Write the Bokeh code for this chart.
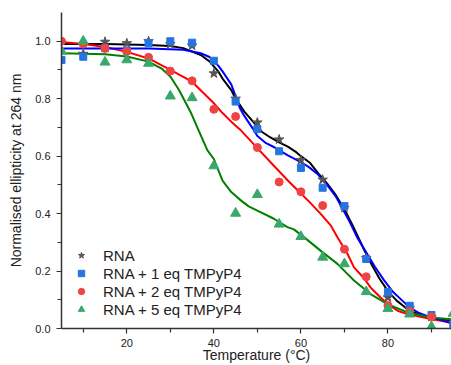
from bokeh.plotting import figure
from bokeh.models import Range1d, FixedTicker, PrintfTickFormatter, Legend, LegendItem, LinearAxis
from bokeh.embed import file_html
from bokeh.resources import INLINE

# ---- measured points ----
t_rna = [10, 15, 20, 25, 30, 35, 40, 45, 50, 55, 60, 65, 70, 75, 80, 85, 90]
v_rna = [0.956, 0.998, 0.993, 1.0, 0.99, 0.985, 0.888, 0.80, 0.717, 0.658, 0.586, 0.518, 0.42, 0.245, 0.108, 0.07, 0.04]

t_1eq = [5, 10, 15, 20, 25, 30, 35, 40, 45, 50, 55, 60, 65, 70, 75, 80, 85, 90, 95]
v_1eq = [0.935, 0.946, 0.976, 0.968, 0.993, 1.0, 0.995, 0.932, 0.79, 0.694, 0.617, 0.559, 0.49, 0.426, 0.242, 0.127, 0.079, 0.047, 0.015]

t_2eq = [5, 10, 15, 20, 25, 30, 35, 40, 45, 50, 55, 60, 65, 70, 75, 80, 85, 90]
v_2eq = [1.0, 0.99, 0.975, 0.964, 0.944, 0.896, 0.862, 0.763, 0.738, 0.63, 0.51, 0.476, 0.428, 0.276, 0.18, 0.08, 0.06, 0.04]

t_5eq = [5, 10, 15, 20, 25, 30, 35, 40, 45, 50, 55, 60, 65, 70, 75, 80, 85, 90, 95]
v_5eq = [0.965, 1.0, 0.927, 0.935, 0.923, 0.809, 0.803, 0.566, 0.401, 0.466, 0.363, 0.32, 0.248, 0.225, 0.128, 0.069, 0.05, 0.006, 0.053]

# ---- fitted curves ----
ft_rna = [5, 15, 25, 30, 33, 37, 39, 41, 42, 44, 45, 47, 49, 51, 53, 55, 57, 59, 60, 62, 64, 66, 68, 70, 72, 74.5, 76, 78, 80, 82, 84, 86, 88, 90, 92, 94.6]
fv_rna = [0.99, 0.99, 0.987, 0.983, 0.976, 0.952, 0.93, 0.895, 0.87, 0.83, 0.80, 0.755, 0.72, 0.685, 0.665, 0.648, 0.633, 0.613, 0.60, 0.578, 0.54, 0.505, 0.465, 0.415, 0.355, 0.275, 0.23, 0.175, 0.13, 0.097, 0.073, 0.056, 0.045, 0.038, 0.032, 0.026]

ft_1eq = [5, 25, 33, 37, 39, 41, 42, 44, 46, 47, 49, 50, 52, 54, 57, 59, 61, 62, 64, 66, 68, 70, 71.4, 73, 75, 77, 79, 81, 83.3, 85, 87, 90, 92, 94.6]
fv_1eq = [0.975, 0.975, 0.97, 0.958, 0.945, 0.915, 0.895, 0.85, 0.767, 0.74, 0.695, 0.67, 0.645, 0.63, 0.603, 0.587, 0.57, 0.56, 0.535, 0.50, 0.46, 0.405, 0.365, 0.315, 0.265, 0.215, 0.17, 0.13, 0.097, 0.073, 0.055, 0.038, 0.03, 0.018]

ft_2eq = [5, 10, 15, 20, 25, 30, 35, 40, 42, 44, 46, 50, 54, 57, 60, 62, 64.5, 66.8, 68.4, 70.7, 72.2, 74.5, 76, 78.3, 80, 82.2, 84.5, 89.8, 94.6]
fv_2eq = [0.997, 0.99, 0.98, 0.963, 0.94, 0.90, 0.859, 0.784, 0.75, 0.72, 0.693, 0.628, 0.563, 0.515, 0.47, 0.44, 0.40, 0.36, 0.318, 0.26, 0.213, 0.175, 0.143, 0.108, 0.085, 0.062, 0.05, 0.033, 0.021]

ft_5eq = [5, 15, 20, 25, 28, 30, 32, 34.7, 36.5, 38.5, 40, 42, 44, 46.2, 48, 50, 53.8, 56.9, 58.4, 60.7, 64.5, 68.4, 72.2, 76, 79.9, 84.5, 89.8, 94.6]
fv_5eq = [0.958, 0.955, 0.947, 0.929, 0.905, 0.877, 0.83, 0.752, 0.69, 0.621, 0.59, 0.515, 0.475, 0.446, 0.425, 0.41, 0.382, 0.353, 0.345, 0.318, 0.271, 0.225, 0.167, 0.12, 0.085, 0.056, 0.038, 0.032]

x_ticks = [20, 40, 60, 80]
x_minor = [10, 30, 50, 70, 90]
y_ticks = [0, 0.2, 0.4, 0.6, 0.8, 1.0]
y_minor = [0.1, 0.3, 0.5, 0.7, 0.9]

labels = ["RNA", "RNA + 1 eq TMPyP4", "RNA + 2 eq TMPyP4", "RNA + 5 eq TMPyP4"]
x_title = "Temperature (°C)"
y_title = "Normalised ellipticity at 264 nm"

FONT = "Liberation Sans"

p = figure(width=451, height=365, output_backend="svg", toolbar_location=None,
           x_range=Range1d(5, 94.6), y_range=Range1d(0, 1.1),
           min_border_left=61, min_border_right=0, min_border_top=12, min_border_bottom=37)
p.outline_line_color = None
p.xgrid.visible = False
p.ygrid.visible = False
p.background_fill_color = "white"
p.border_fill_color = "white"

for ax in (p.xaxis[0], p.yaxis[0]):
    ax.axis_line_color = "#333333"
    ax.axis_line_width = 1.5
    ax.major_tick_line_color = "#333333"
    ax.minor_tick_line_color = "#333333"
    ax.major_tick_line_width = 1.2
    ax.minor_tick_line_width = 1.2
    ax.major_tick_in = 0
    ax.major_tick_out = 5
    ax.minor_tick_in = 0
    ax.minor_tick_out = 4
    ax.major_label_text_font = FONT
    ax.major_label_text_font_size = "11px"
    ax.major_label_text_color = "#222222"
    ax.axis_label_text_font = FONT
    ax.axis_label_text_font_size = "14px"
    ax.axis_label_text_font_style = "normal"
    ax.axis_label_text_color = "#222222"

p.xaxis.ticker = FixedTicker(ticks=x_ticks, minor_ticks=x_minor)
p.yaxis.ticker = FixedTicker(ticks=y_ticks, minor_ticks=y_minor)
p.yaxis.formatter = PrintfTickFormatter(format="%.1f")
p.yaxis.axis_label = y_title
p.xaxis.major_label_standoff = 5
p.yaxis.major_label_standoff = 6
p.yaxis.axis_label_standoff = 8

# separate title-only axis below the tick labels (keeps all tick labels visible)
title_axis = LinearAxis(ticker=FixedTicker(ticks=[]), axis_label=x_title,
                        axis_line_color=None, major_tick_line_color=None, minor_tick_line_color=None,
                        major_tick_out=0, minor_tick_out=0, major_label_standoff=0,
                        axis_label_standoff=-3,
                        axis_label_text_font=FONT, axis_label_text_font_size="14px",
                        axis_label_text_font_style="normal", axis_label_text_color="#222222")
p.add_layout(title_axis, "below")

# curves
p.line(ft_rna, fv_rna, line_color="black", line_width=2)
p.line(ft_2eq, fv_2eq, line_color="#ff0000", line_width=2)
p.line(ft_1eq, fv_1eq, line_color="#0000ff", line_width=2)
p.line(ft_5eq, fv_5eq, line_color="#008000", line_width=2)

# markers
r0 = p.scatter(t_rna, v_rna, marker="star", size=10, fill_color="#555555", line_color="#555555")
r1 = p.scatter(t_1eq, v_1eq, marker="square", size=7, fill_color="#2574e0", line_color="#2574e0")
r2 = p.scatter(t_2eq, v_2eq, marker="circle", size=8, fill_color="#f04444", line_color="#f04444")
r3 = p.scatter(t_5eq, v_5eq, marker="triangle", size=10, fill_color="#3aa86a", line_color="#3aa86a")

legend = Legend(items=[LegendItem(label=labels[0], renderers=[r0]),
                       LegendItem(label=labels[1], renderers=[r1]),
                       LegendItem(label=labels[2], renderers=[r2]),
                       LegendItem(label=labels[3], renderers=[r3])],
                location=(12, 10), orientation="vertical",
                background_fill_alpha=0, border_line_alpha=0,
                padding=0, margin=0, spacing=0,
                glyph_width=16, glyph_height=18, label_height=18,
                label_standoff=14,
                label_text_font=FONT, label_text_font_size="15px",
                label_text_color="#222222")
p.add_layout(legend, "center")

open("out.html", "w").write(file_html(p, INLINE))
